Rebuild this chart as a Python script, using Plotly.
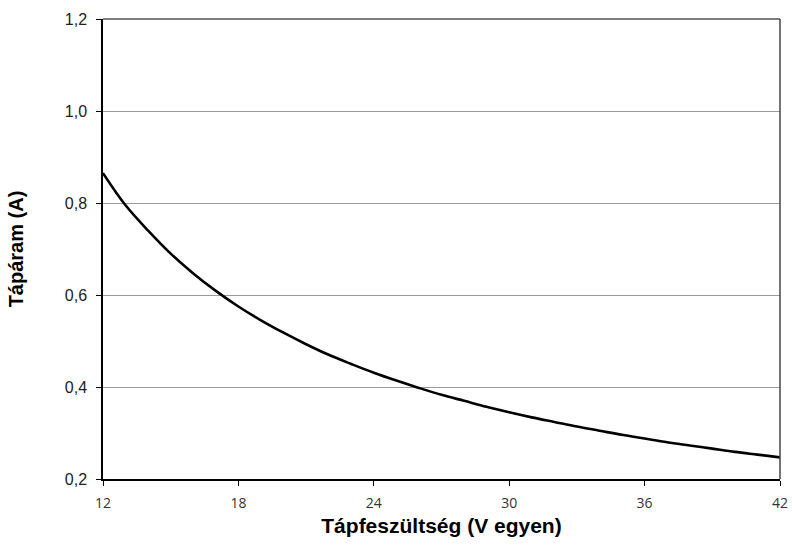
import plotly.graph_objects as go

voltage = [12, 13, 14, 15, 16, 17, 18, 19, 20, 21, 22, 23, 24, 25, 26, 27,
           28, 29, 30, 31, 32, 33, 34, 35, 36, 37, 38, 39, 40, 41, 42]
current = [0.865, 0.795, 0.740, 0.690, 0.647, 0.609, 0.575, 0.545, 0.518,
           0.493, 0.470, 0.450, 0.431, 0.414, 0.398, 0.383, 0.370, 0.357,
           0.345, 0.334, 0.324, 0.314, 0.305, 0.296, 0.288, 0.280, 0.273,
           0.266, 0.259, 0.253, 0.247]
x_ticks = [12, 18, 24, 30, 36, 42]
y_ticks = [0.2, 0.4, 0.6, 0.8, 1.0, 1.2]
y_tick_labels = ["0,2", "0,4", "0,6", "0,8", "1,0", "1,2"]

fig = go.Figure()
fig.add_trace(go.Scatter(x=voltage, y=current, mode="lines",
                         line=dict(color="black", width=2.6, shape="spline"),
                         showlegend=False))

fig.update_layout(
    width=792, height=548,
    margin=dict(l=103, r=12, t=19, b=69),
    paper_bgcolor="white", plot_bgcolor="white",
    font=dict(family="Liberation Sans, Arial, sans-serif", color="black"),
    xaxis=dict(
        range=[12, 42], tickvals=x_ticks, ticktext=[str(v) for v in x_ticks],
        automargin=False,
        showgrid=False, zeroline=False,
        showline=True, linecolor="black", linewidth=1.5,
        ticks="outside", ticklen=5, tickcolor="black", tickwidth=1.2,
        tickfont=dict(size=14, color="#333", family="Open Sans, sans-serif"),
        ticklabelstandoff=5,
        title=dict(text="<b>Tápfeszültség (V egyen)</b>", font=dict(size=21), standoff=8),
    ),
    yaxis=dict(
        range=[0.2, 1.2], tickvals=y_ticks, ticktext=y_tick_labels,
        automargin=False,
        showgrid=True, gridcolor="#9a9a9a", gridwidth=1, zeroline=False,
        showline=True, linecolor="black", linewidth=1.5,
        ticks="outside", ticklen=5, tickcolor="black", tickwidth=1.2,
        tickfont=dict(size=16, color="#222"),
        ticklabelstandoff=6,
        title=dict(text="<b>Tápáram (A)</b>", font=dict(size=20), standoff=36),
    ),
    shapes=[
        dict(type="line", xref="x domain", yref="y domain", x0=0, x1=1, y0=1, y1=1,
             line=dict(color="#555", width=1.5)),
        dict(type="line", xref="x domain", yref="y domain", x0=1, x1=1, y0=0, y1=1,
             line=dict(color="#444", width=1.5)),
    ],
)

fig.write_html("out.html")
